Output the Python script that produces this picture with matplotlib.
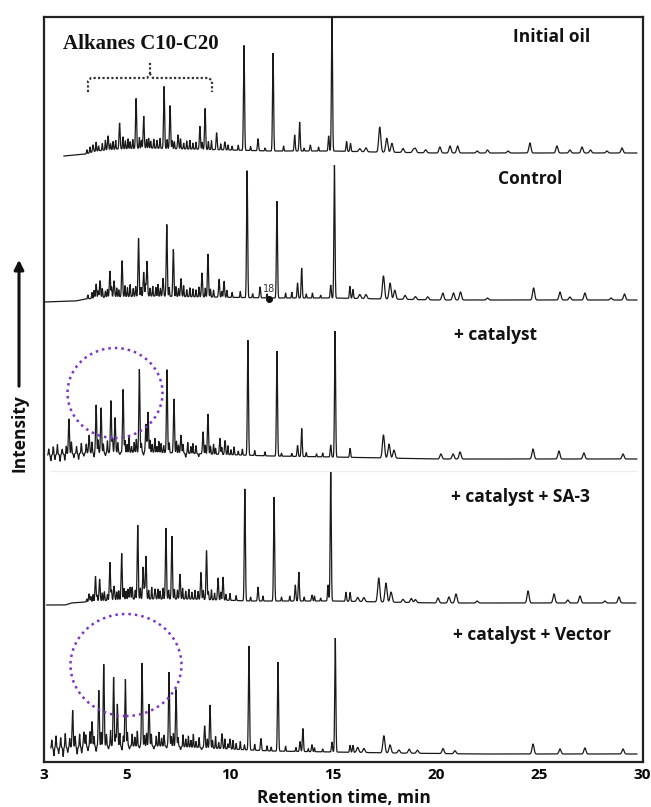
import numpy as np
import matplotlib
matplotlib.use("Agg")
import matplotlib.pyplot as plt
from matplotlib.patches import Ellipse, FancyArrowPatch
from matplotlib.lines import Line2D

# ---------------- data ----------------
panel_labels = ["Initial oil", "Control", "+ catalyst", "+ catalyst + SA-3", "+ catalyst + Vector"]
xtick_pos = [0.97, 5, 10, 15, 20, 25, 30]
xtick_labels = ["3", "5", "10", "15", "20", "25", "30"]

# Initial oil
oil_t = [3.35, 4.08, 4.64, 5.44, 5.81, 6.80, 7.09, 7.48, 8.54, 8.79, 9.35, 9.75, 10.68, 11.36, 12.09,
         13.14, 13.38, 13.9, 14.79, 14.95, 15.66, 15.85, 17.27, 17.61, 17.86, 18.4, 19.0, 20.19, 20.68,
         21.05, 22.5, 24.56, 25.87, 27.09, 27.5, 29.03]
oil_h = [7, 14, 26, 50, 32, 62, 43, 14, 23, 41, 17, 8, 105, 12, 98,
         16, 29, 6, 15, 140, 10, 8, 25, 14, 9, 4, 4, 6, 7,
         7, 3, 10, 7, 6, 3, 5]
oil_bt = [1.94, 3.0, 3.5, 4.5, 6.0, 8.0, 10.0, 12.0, 15.0, 17.0, 20.0, 29.75]
oil_by = [-3, -1, 2, 4, 5, 4, 3, 2, 2, 1, 0, 0]
oil_gt = [3.05, 3.2, 3.5, 3.62, 3.8, 3.95, 4.2, 4.32, 4.45, 4.8, 4.92, 5.05, 5.15, 5.28, 5.6, 5.7, 5.95,
          6.05, 6.15, 6.3, 6.45, 6.6, 6.95, 7.2, 7.3, 7.6, 7.75, 7.9, 8.05, 8.2, 8.35, 8.65, 8.95, 9.1,
          9.55, 9.9, 10.1, 10.4, 11.0, 11.7, 12.6, 13.6, 14.3, 16.3, 16.6, 18.9, 19.5, 22.0, 23.5, 26.5, 28.3]
oil_gh = [4, 6, 9, 5, 7, 10, 6, 8, 9, 12, 8, 10, 7, 9, 11, 8, 9,
          10, 7, 9, 8, 10, 9, 8, 7, 10, 6, 8, 9, 6, 7, 7, 8, 9,
          6, 5, 4, 5, 4, 3, 5, 3, 4, 3, 4, 3, 3, 2, 2, 3, 2]

# Control
ctl_t = [3.50, 3.69, 4.17, 4.37, 4.76, 5.56, 5.81, 5.97, 6.75, 6.93, 7.25, 7.62, 8.64, 8.93, 9.47, 9.71,
         10.83, 11.46, 12.28, 13.28, 13.48, 14.89, 15.07, 15.82, 15.97, 17.45, 17.77, 18.0, 18.5,
         20.33, 20.85, 21.19, 24.74, 26.02, 27.23, 29.15]
ctl_h = [14, 17, 26, 16, 36, 58, 24, 35, 18, 72, 47, 18, 24, 43, 18, 16,
         127, 11, 97, 15, 30, 13, 133, 12, 9, 23, 16, 9, 4,
         7, 7, 8, 12, 8, 7, 6]
ctl_bt = [0.97, 2.5, 3.0, 4.0, 6.0, 9.0, 12.0, 15.0, 20.0, 29.75]
ctl_by = [-2, -1, 1, 3, 4, 3, 2, 2, 0, 0]
ctl_gt = [3.1, 3.3, 3.4, 3.6, 3.8, 3.95, 4.05, 4.25, 4.5, 4.6, 4.9, 5.02, 5.15, 5.3, 5.42, 5.68, 5.9,
          6.12, 6.25, 6.4, 6.5, 6.62, 7.05, 7.38, 7.5, 7.75, 7.9, 8.05, 8.2, 8.35, 8.5, 8.8, 9.05, 9.2,
          9.6, 9.85, 10.1, 10.5, 11.1, 11.8, 12.7, 13.0, 13.7, 14.0, 14.4, 16.3, 16.6, 19.0, 19.6, 22.5,
          26.5, 28.5]
ctl_gh = [4, 6, 8, 7, 9, 6, 8, 10, 9, 7, 11, 9, 12, 8, 10, 9, 11,
          8, 10, 9, 12, 8, 9, 10, 8, 11, 7, 9, 8, 7, 10, 9, 8, 7,
          6, 7, 5, 6, 4, 4, 5, 6, 4, 5, 3, 4, 4, 3, 3, 2,
          3, 2]

# + catalyst
cat_t = [2.18, 3.16, 3.50, 3.74, 4.22, 4.42, 4.81, 5.60, 5.92, 6.02, 6.94, 7.28, 7.62, 8.69, 8.93, 9.51,
         9.76, 10.87, 12.28, 13.28, 13.48, 14.89, 15.10, 15.83, 17.45, 17.72, 17.96, 20.24, 20.83,
         21.17, 24.71, 25.97, 27.18, 29.08]
cat_h = [35, 18, 48, 45, 52, 35, 63, 83, 28, 40, 83, 54, 18, 22, 40, 16,
         14, 115, 105, 11, 28, 12, 126, 9, 23, 14, 8, 5, 5,
         7, 10, 8, 6, 5]
cat_bt = [1.15, 3.0, 6.0, 9.0, 12.0, 15.0, 20.0, 29.75]
cat_by = [4, 6, 7, 5, 3, 2, 0, 0]
cat_gt = [1.2, 1.3, 1.42, 1.5, 1.62, 1.75, 1.85, 1.98, 2.05, 2.3, 2.42, 2.55, 2.65, 2.78, 2.9, 3.02,
          3.3, 3.4, 3.6, 3.85, 3.95, 4.05, 4.3, 4.55, 4.65, 4.9, 5.0, 5.1, 5.22, 5.35, 5.45, 5.7, 5.8,
          6.12, 6.22, 6.35, 6.45, 6.55, 6.65, 6.78, 7.05, 7.4, 7.5, 7.72, 7.85, 7.95, 8.1, 8.2, 8.35,
          8.48, 8.8, 9.05, 9.2, 9.3, 9.6, 9.9, 10.05, 10.2, 10.4, 10.6, 11.2, 11.7, 12.5, 13.0, 13.7,
          14.2, 14.5]
cat_gh = [6, -6, 8, -5, 10, -7, 5, -6, 8, 12, -4, 7, -6, 10, -3, 9,
          11, -4, 13, 9, -3, 12, 14, 10, -2, 12, 8, 15, 6, 10, 13, 9, -3,
          12, 8, 14, 6, 11, 9, 7, 10, 12, 8, 9, -4, 11, 7, 10, 8,
          -3, 9, 8, 10, 6, 7, 9, 5, 8, 4, 6, 5, 4, 3, 3, 4,
          3, 4]

# + catalyst + SA-3
sa_t = [3.16, 3.47, 3.67, 4.17, 4.37, 4.74, 5.15, 5.52, 5.78, 5.92, 6.36, 6.89, 7.18, 7.57, 8.59, 8.86,
        9.42, 9.66, 10.72, 11.36, 12.14, 13.17, 13.34, 13.98, 14.76, 14.89, 15.63, 15.83, 17.22, 17.57,
        17.82, 18.8, 20.10, 20.63, 20.97, 24.47, 25.73, 26.99, 28.88]
sa_h = [8, 25, 22, 38, 14, 46, 12, 74, 32, 43, 10, 71, 63, 25, 27, 49,
        22, 23, 112, 14, 104, 16, 29, 6, 16, 130, 9, 9, 24, 19,
        10, 4, 5, 6, 9, 12, 9, 7, 6]
sa_bt = [1.1, 2.0, 2.3, 3.0, 5.0, 8.0, 11.0, 15.0, 20.0, 29.7]
sa_by = [-2, -2, 0, 1, 4, 4, 2, 2, 0, 0]
sa_gt = [3.05, 3.25, 3.35, 3.55, 3.8, 3.9, 4.05, 4.25, 4.5, 4.6, 4.85, 4.95, 5.05, 5.25, 5.4, 5.65, 5.85,
         6.05, 6.2, 6.5, 6.6, 6.75, 7.02, 7.3, 7.45, 7.7, 7.85, 8.0, 8.15, 8.3, 8.45, 8.7, 8.95, 9.1,
         9.25, 9.55, 9.8, 10.0, 10.3, 11.0, 11.6, 12.5, 12.9, 13.6, 14.1, 14.4, 16.2, 16.5, 18.4, 19.0,
         22.0, 26.4, 28.2]
sa_gh = [3, 5, 7, 6, 8, 9, 6, 10, 8, 9, 11, 8, 10, 12, 9, 11, 10,
         9, 12, 10, 8, 11, 9, 10, 9, 11, 8, 10, 7, 9, 8, 9, 8, 10,
         7, 8, 6, 7, 5, 4, 5, 4, 5, 4, 5, 3, 4, 4, 3, 3,
         2, 3, 2]

# + catalyst + Vector
vec_t = [2.36, 2.91, 3.30, 3.63, 3.87, 4.35, 4.53, 4.92, 5.73, 6.07, 7.04, 7.38, 8.77, 9.03, 9.61, 10.0,
         10.92, 11.50, 12.33, 13.40, 13.54, 13.98, 14.95, 15.11, 15.83, 15.97, 17.47, 17.77, 18.7,
         20.34, 20.92, 24.71, 26.02, 27.23, 29.08]
vec_h = [37, 15, 25, 56, 82, 69, 42, 67, 83, 42, 74, 57, 22, 43, 15, 10,
         104, 12, 89, 10, 23, 7, 10, 114, 7, 7, 17, 8, 4,
         5, 3, 10, 5, 6, 5]
vec_bt = [1.3, 4.0, 7.0, 9.0, 12.0, 15.0, 18.0, 22.0, 29.75]
vec_by = [6, 8, 8, 6, 3, 2, 1, 0, 0]
vec_gt = [1.35, 1.45, 1.55, 1.68, 1.78, 1.9, 2.0, 2.12, 2.22, 2.48, 2.58, 2.7, 2.8, 3.0, 3.1, 3.2, 3.4,
          3.5, 3.75, 4.0, 4.1, 4.2, 4.45, 4.65, 4.75, 4.82, 5.02, 5.12, 5.25, 5.38, 5.5, 5.6, 5.85, 5.95,
          6.18, 6.3, 6.42, 6.55, 6.68, 6.8, 6.92, 7.15, 7.25, 7.48, 7.6, 7.72, 7.85, 7.98, 8.1, 8.22,
          8.35, 8.5, 8.62, 8.9, 9.15, 9.3, 9.45, 9.75, 9.9, 10.15, 10.3, 10.5, 10.7, 11.2, 11.8, 12.0,
          12.7, 13.2, 13.8, 14.1, 14.5, 16.2, 16.5, 18.2, 19.1]
vec_gh = [8, -8, 12, -6, 10, -9, 14, -5, 9, 11, -7, 13, -6, 12, -4, 15, 10,
          -5, 14, 12, -3, 16, 11, 13, -4, 10, 14, -3, 12, 9, 15, -2, 11, 13,
          12, -3, 10, 14, 8, 11, -2, 10, 13, 9, -3, 12, 8, 11, 7, 13,
          6, 10, -2, 9, 8, 12, 6, 10, 5, 9, 6, 8, 5, 6, 5, 4,
          5, 4, 3, 4, 3, 5, 4, 3, 3]

panels = [
    (oil_bt, oil_by, oil_t, oil_h, oil_gt, oil_gh),
    (ctl_bt, ctl_by, ctl_t, ctl_h, ctl_gt, ctl_gh),
    (cat_bt, cat_by, cat_t, cat_h, cat_gt, cat_gh),
    (sa_bt, sa_by, sa_t, sa_h, sa_gt, sa_gh),
    (vec_bt, vec_by, vec_t, vec_h, vec_gt, vec_gh),
]

# ---------------- layout ----------------
W, H = 651, 807
offsets = [609, 462, 303, 159, 8]   # vertical stacking of the traces (axis units = px)


def fx(x):
    return x / W


def fy(y):
    return 1 - y / H


def build(bt, by, pt, ph, gt, gh):
    x = np.arange(bt[0], bt[-1], 0.003)
    y = np.interp(x, bt, by)
    for t, h in zip(pt, ph):
        s = 0.026 if t < 16 else 0.05
        y = y + h * np.exp(-0.5 * ((x - t) / s) ** 2)
    for t, h in zip(gt, gh):
        s = 0.018 if t < 16 else 0.05
        y = y + h * np.exp(-0.5 * ((x - t) / s) ** 2)
    return x, y


fig = plt.figure(figsize=(W / 100, H / 100), dpi=100)
ax = fig.add_axes([fx(44), fy(762), (643 - 44) / W, (762 - 17) / H])
ax.set_xlim(0.97, 30.05)
ax.set_ylim(0, 745)

for (bt, by, pt, ph, gt, gh), off in zip(panels, offsets):
    x, y = build(bt, by, pt, ph, gt, gh)
    ax.plot(x, y + off, color="#1a1a1a", lw=0.9, solid_joinstyle="miter")

for s in ax.spines.values():
    s.set_linewidth(1.6)
    s.set_color("#222222")
ax.set_yticks([])
ax.set_xticks(xtick_pos)
ax.set_xticklabels(xtick_labels, fontfamily="Open Sans", fontweight="bold", fontsize=11)
ax.tick_params(axis="x", length=0, pad=4)

# faint separator between panels
ax.plot([1.3, 29.7], [291, 291], color="#ececec", lw=0.8)

# panel labels
lab_font = dict(family="Open Sans", weight="bold", fontsize=12.5, color="#111111")
lab_pos = [(552, 37), (530, 179), (495, 335), (520, 497), (532, 635)]
for txt, (px_, py_) in zip(panel_labels, lab_pos):
    fig.text(fx(px_), fy(py_), txt, ha="center", va="center", **lab_font)

# Alkanes bracket annotation
fig.text(fx(63), fy(44), "Alkanes C10-C20", ha="left", va="center",
         family="Liberation Serif", weight="bold", fontsize=15, color="#111111")
bx = [fx(88), fx(88), fx(91), fx(147), fx(150), fx(153), fx(209), fx(212), fx(212)]
by_ = [fy(92), fy(81), fy(78), fy(78), fy(74), fy(78), fy(78), fy(81), fy(92)]
fig.add_artist(Line2D(bx, by_, transform=fig.transFigure, color="#333333", lw=1.6, ls=(0, (1, 1))))
fig.add_artist(Line2D([fx(150), fx(150)], [fy(74), fy(62)], transform=fig.transFigure,
                      color="#333333", lw=1.6, ls=(0, (1, 1))))

# purple dotted circles
for cx, cy, rw, rh in [(115, 393, 95, 90), (126, 665, 111, 102)]:
    e = Ellipse((fx(cx), fy(cy)), rw / W, rh / H, transform=fig.transFigure, fill=False,
                edgecolor="#7a35c8", lw=1.8, ls=(0, (1, 1.6)))
    fig.add_artist(e)

# "18" marker
fig.text(fx(269), fy(289), "18", ha="center", va="center", fontsize=7, color="#333333")
fig.add_artist(Line2D([fx(269)], [fy(299)], transform=fig.transFigure, marker="o",
                      markersize=4, color="#111111", lw=0))

# Intensity label with arrow
fig.text(fx(19), fy(433), "Intensity", rotation=90, ha="center", va="center",
         family="Open Sans", weight="bold", fontsize=12.5, color="#111111")
fig.add_artist(FancyArrowPatch((fx(19), fy(389)), (fx(19), fy(257)),
                               transform=fig.transFigure, arrowstyle="-|>",
                               mutation_scale=14, lw=2.2, color="#111111"))

fig.text(fx(344), fy(798), "Retention time, min", ha="center", va="center",
         family="Open Sans", weight="bold", fontsize=12.5, color="#111111")

fig.savefig("out.png", dpi=100)
